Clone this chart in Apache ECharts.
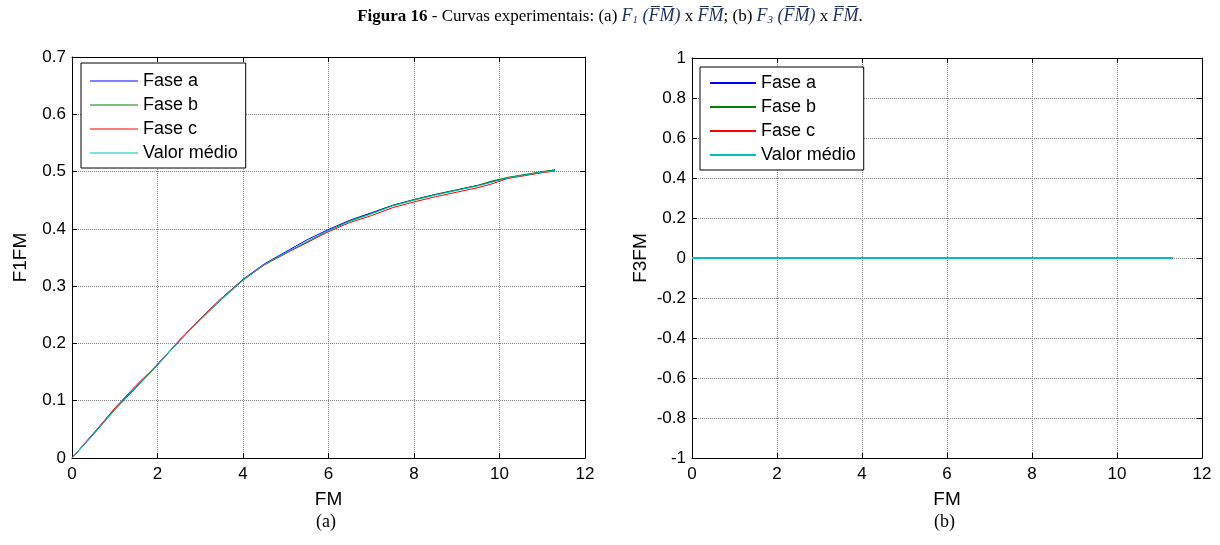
<!DOCTYPE html>
<html>
<head>
<meta charset="utf-8">
<script src="https://cdn.jsdelivr.net/npm/echarts@6/dist/echarts.min.js"></script>
<style>
  html, body { margin: 0; padding: 0; background: #fff; }
  #main { width: 1220px; height: 545px; }
</style>
</head>
<body>
<div id="main"></div>
<script>
// valores
var fm = [0, 0.5, 1, 1.5, 2, 2.5, 3, 3.5, 4, 4.5, 5, 5.5, 6, 6.5, 7, 7.5, 8, 8.5, 9, 9.5, 9.8, 10.2, 10.6, 11, 11.3];
var f1FaseA = [0, 0.043, 0.086, 0.124, 0.164, 0.203, 0.243, 0.279, 0.312, 0.339, 0.360, 0.381, 0.399, 0.415, 0.428, 0.441, 0.451, 0.460, 0.468, 0.476, 0.482, 0.489, 0.494, 0.499, 0.503];
var f1FaseB = [0, 0.041, 0.084, 0.123, 0.162, 0.204, 0.241, 0.277, 0.310, 0.338, 0.358, 0.377, 0.397, 0.414, 0.427, 0.441, 0.451, 0.460, 0.468, 0.476, 0.483, 0.490, 0.495, 0.500, 0.503];
var f1FaseC = [0, 0.042, 0.087, 0.127, 0.163, 0.205, 0.243, 0.279, 0.311, 0.337, 0.357, 0.376, 0.395, 0.411, 0.423, 0.437, 0.447, 0.456, 0.464, 0.472, 0.478, 0.488, 0.493, 0.498, 0.501];
var f1Medio = [0, 0.042, 0.085, 0.125, 0.163, 0.204, 0.242, 0.278, 0.311, 0.338, 0.358, 0.378, 0.397, 0.413, 0.426, 0.440, 0.450, 0.459, 0.467, 0.475, 0.481, 0.489, 0.494, 0.499, 0.502];
var f3Valores = [0, 0, 0, 0, 0, 0, 0, 0, 0, 0, 0, 0, 0, 0, 0, 0, 0, 0, 0, 0, 0, 0, 0, 0, 0];

var nomes = ['Fase a', 'Fase b', 'Fase c', 'Valor médio'];
var cores = ['#0000ff', '#008000', '#ff0000', '#00bfbf'];

function pares(ys) {
  return fm.map(function (x, i) { return [x, ys[i]]; });
}

var chart = echarts.init(document.getElementById('main'));

var fonte = '"Liberation Sans", Arial, sans-serif';
var serif = '"Liberation Serif", "Times New Roman", serif';

function eixoX(grid, pos, show) {
  return {
    type: 'value', gridIndex: grid, position: pos, min: 0, max: 12, interval: 2,
    name: show ? 'FM' : '', nameLocation: 'middle', nameGap: 32,
    nameTextStyle: { fontFamily: fonte, fontSize: 19, color: '#000' },
    axisLine: { onZero: false, lineStyle: { color: '#000', width: 1 } },
    axisTick: { inside: true, length: 5, lineStyle: { color: '#000' } },
    axisLabel: { show: show, margin: 8, fontFamily: fonte, fontSize: 17, color: '#000' },
    splitLine: { show: show, lineStyle: { type: 'dotted', color: '#808080' } }
  };
}
function eixoY(grid, pos, show, min, max, step, nome) {
  return {
    type: 'value', gridIndex: grid, position: pos, min: min, max: max, interval: step,
    name: show ? nome : '', nameLocation: 'middle', nameGap: 42,
    nameTextStyle: { fontFamily: fonte, fontSize: 19, color: '#000' },
    axisLine: { onZero: false, lineStyle: { color: '#000', width: 1 } },
    axisTick: { inside: true, length: 5, lineStyle: { color: '#000' } },
    axisLabel: { show: show, margin: 6, fontFamily: fonte, fontSize: 17, color: '#000' },
    splitLine: { show: show, lineStyle: { type: 'dotted', color: '#808080' } }
  };
}

var series = [];
[f1FaseA, f1FaseB, f1FaseC, f1Medio].forEach(function (ys, i) {
  series.push({
    name: 'a:' + nomes[i], type: 'line', xAxisIndex: 0, yAxisIndex: 0,
    data: pares(ys), showSymbol: false, symbol: 'none',
    lineStyle: { width: 1, color: cores[i] }, itemStyle: { color: cores[i] },
    animation: false
  });
});
[f3Valores, f3Valores, f3Valores, f3Valores].forEach(function (ys, i) {
  series.push({
    name: 'b:' + nomes[i], type: 'line', xAxisIndex: 2, yAxisIndex: 2,
    data: pares(ys), showSymbol: false, symbol: 'none',
    lineStyle: { width: 2, color: cores[i] }, itemStyle: { color: cores[i] },
    animation: false
  });
});

var option = {
  backgroundColor: '#fff',
  animation: false,
  title: {
    left: 'center', top: 2,
    text: '{b|Figura 16} - Curvas experimentais: (a) {m|F}{s|1}{m| (F\u0305M\u0305)} x {m|F\u0305M\u0305}; (b) {m|F}{s|3}{m| (F\u0305M\u0305)} x {m|F\u0305M\u0305}.',
    textStyle: {
      fontFamily: serif, fontSize: 17, fontWeight: 'normal', color: '#000',
      rich: {
        b: { fontFamily: serif, fontSize: 17, fontWeight: 'bold', color: '#000' },
        m: { fontFamily: serif, fontSize: 18, fontStyle: 'italic', color: '#1c2f5e' },
        s: { fontFamily: serif, fontSize: 11, fontStyle: 'italic', color: '#1c2f5e', verticalAlign: 'bottom', padding: [8, 0, 0, 0] }
      }
    }
  },
  grid: [
    { left: 72, top: 57, width: 513, height: 401, show: false },
    { left: 692, top: 58, width: 510, height: 400, show: false }
  ],
  xAxis: [
    eixoX(0, 'bottom', true), eixoX(0, 'top', false),
    eixoX(1, 'bottom', true), eixoX(1, 'top', false)
  ],
  yAxis: [
    eixoY(0, 'left', true, 0, 0.7, 0.1, 'F1FM'), eixoY(0, 'right', false, 0, 0.7, 0.1, ''),
    eixoY(1, 'left', true, -1, 1, 0.2, 'F3FM'), eixoY(1, 'right', false, -1, 1, 0.2, '')
  ],
  legend: [
    {
      data: nomes.map(function (n) { return 'a:' + n; }),
      formatter: function (n) { return n.slice(2); },
      orient: 'vertical', left: 81, top: 63, padding: [7, 8, 4, 9],
      itemWidth: 48, itemHeight: 1, itemGap: 2, icon: 'rect',
      backgroundColor: '#fff', borderColor: '#000', borderWidth: 1,
      selectedMode: false, z: 10,
      textStyle: { fontFamily: fonte, fontSize: 18, lineHeight: 22, color: '#000' }
    },
    {
      data: nomes.map(function (n) { return 'b:' + n; }),
      formatter: function (n) { return n.slice(2); },
      orient: 'vertical', left: 700, top: 67, padding: [5, 8, 4, 10],
      itemWidth: 46, itemHeight: 2, itemGap: 2, icon: 'rect',
      backgroundColor: '#fff', borderColor: '#000', borderWidth: 1,
      selectedMode: false, z: 10,
      textStyle: { fontFamily: fonte, fontSize: 18, lineHeight: 22, color: '#000' }
    }
  ],
  graphic: [
    { type: 'text', left: 316, top: 513, style: { text: '(a)', font: '18px ' + serif, fill: '#000' } },
    { type: 'text', left: 934, top: 513, style: { text: '(b)', font: '18px ' + serif, fill: '#000' } }
  ],
  series: series
};

chart.setOption(option);
</script>
</body>
</html>
